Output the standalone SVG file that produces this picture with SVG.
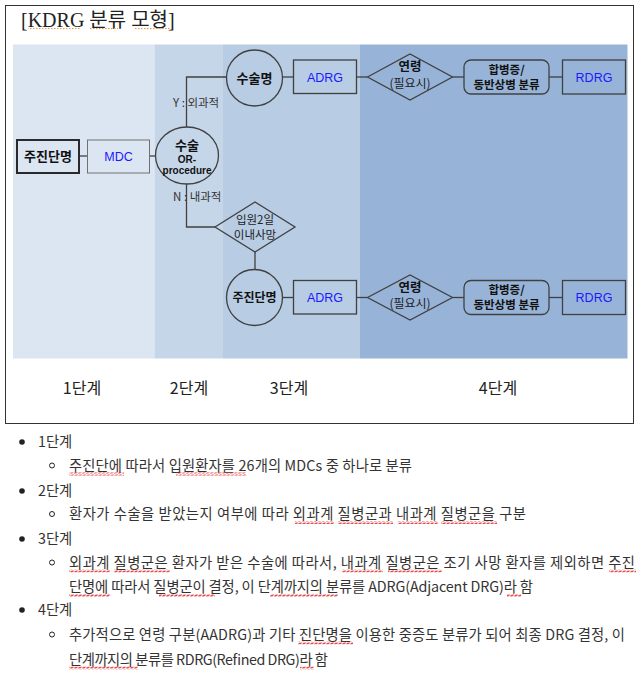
<svg xmlns="http://www.w3.org/2000/svg" width="644" height="679" viewBox="0 0 644 679">
<defs>
<style>
.kr{font-family:"Noto Sans CJK KR","Noto Sans",sans-serif;}
.lat{font-family:"Liberation Sans",Arial,"Noto Sans CJK KR",sans-serif;}
.node{fill:none;stroke:#404040;stroke-width:1.3;}
.dark{fill:none;stroke:#2a2a2a;stroke-width:2;}
.light{fill:none;stroke:#707070;stroke-width:1;}
.conn line,.conn polyline{fill:none;stroke:#404040;stroke-width:1.3;}
.b{font-weight:bold;fill:#111;}
.blue{fill:#1a1aff;font-size:12.5px;}
.lbl{fill:#333;font-size:11.5px;}
.stage{font-size:16px;fill:#222;}
.body{font-size:14.3px;fill:#333;}
.spell rect{fill:url(#wave);}
</style>
<pattern id="wave" patternUnits="userSpaceOnUse" width="4" height="3">
<path d="M0 2.5 L1 0.5 L3 2.5 L4 0.5" fill="none" stroke="#e02020" stroke-width="0.8"/>
</pattern>
<pattern id="dots" patternUnits="userSpaceOnUse" width="3" height="2">
<rect x="0" y="0" width="1.5" height="1.2" fill="#e0a050"/>
</pattern>
</defs>
<rect width="644" height="679" fill="#fff"/>

<!-- frame -->
<rect x="5.5" y="5.5" width="628" height="418" fill="none" stroke="#333" stroke-width="1"/>
<text x="21" y="27" font-family="'Liberation Serif','Noto Sans CJK KR',serif" font-size="20" fill="#222">[KDRG 분류 모형]</text>
<g id="title-marks" fill="url(#dots)">
<rect x="28" y="28" width="52" height="1.5"/>
<rect x="90" y="28" width="28" height="1.5"/>
<rect x="135" y="28" width="37" height="1.5"/>
</g>

<!-- stage bands -->
<g id="bands">
<rect x="13" y="44.5" width="141.5" height="314" fill="#dce6f2"/>
<rect x="154.5" y="44.5" width="68.5" height="314" fill="#c6d6e9"/>
<rect x="223" y="44.5" width="136.5" height="314" fill="#b8cce4"/>
<rect x="359.5" y="44.5" width="268" height="314" fill="#97b4d8"/>
</g>

<!-- connectors -->
<g id="connectors" class="conn">
<line x1="79.5" y1="156" x2="87.5" y2="156"/>
<line x1="149.5" y1="156" x2="155.5" y2="156"/>
<polyline points="186.5,127 186.5,77 226.5,77"/>
<line x1="282.5" y1="77" x2="293.5" y2="77"/>
<line x1="356.5" y1="77" x2="367.5" y2="77"/>
<line x1="452.5" y1="77" x2="464" y2="77"/>
<line x1="549" y1="77" x2="562.5" y2="77"/>
<polyline points="186.5,184 186.5,227 215,227"/>
<line x1="255" y1="252" x2="255" y2="269"/>
<line x1="282.5" y1="297.5" x2="293.5" y2="297.5"/>
<line x1="356.5" y1="297.5" x2="367.5" y2="297.5"/>
<line x1="452.5" y1="297.5" x2="464" y2="297.5"/>
<line x1="549" y1="297.5" x2="562.5" y2="297.5"/>
</g>
<text class="kr lbl" x="173" y="107">Y : 외과적</text>
<text class="kr lbl" x="173" y="201">N : 내과적</text>

<!-- nodes -->
<g id="n-main-dx">
<rect class="dark" x="17" y="140" width="62" height="33"/>
<text class="kr b" x="48" y="161" font-size="13" text-anchor="middle">주진단명</text>
</g>
<g id="n-mdc">
<rect class="light" x="87.5" y="140" width="62" height="33"/>
<text class="lat blue" x="118.5" y="161" text-anchor="middle">MDC</text>
</g>
<g id="n-surgery">
<ellipse class="node" cx="187" cy="155.5" rx="31.5" ry="28.5"/>
<text class="kr b" x="187" y="150" font-size="13" text-anchor="middle">수술</text>
<text class="lat b" x="187" y="163" font-size="10" text-anchor="middle">OR-</text>
<text class="lat b" x="187" y="174" font-size="10" text-anchor="middle">procedure</text>
</g>
<g id="n-opname">
<circle class="node" cx="254.5" cy="78" r="28"/>
<text class="kr b" x="254.5" y="82.5" font-size="13" text-anchor="middle">수술명</text>
</g>
<g id="n-adrg1">
<rect class="node" x="293.5" y="60" width="63" height="33.5"/>
<text class="lat blue" x="325" y="81.5" text-anchor="middle">ADRG</text>
</g>
<g id="n-age1">
<polygon class="node" points="367.5,77 410,54 452.5,77 410,100"/>
<text class="kr b" x="410" y="71" font-size="12.5" text-anchor="middle">연령</text>
<text class="kr" x="410" y="87.5" font-size="12" fill="#222" text-anchor="middle">(필요시)</text>
</g>
<g id="n-comorb1">
<rect class="node" x="464" y="60" width="85" height="34" rx="7"/>
<text class="kr b" x="506.5" y="73.5" font-size="11.5" text-anchor="middle">합병증/</text>
<text class="kr b" x="506.5" y="88.5" font-size="11.5" text-anchor="middle">동반상병 분류</text>
</g>
<g id="n-rdrg1">
<rect class="node" x="562.5" y="60" width="63" height="34"/>
<text class="lat blue" x="594" y="81.5" text-anchor="middle">RDRG</text>
</g>
<g id="n-death">
<polygon class="node" points="215,227 255,202 295,227 255,252"/>
<text class="kr" x="255" y="224" font-size="11.5" fill="#222" text-anchor="middle">입원2일</text>
<text class="kr" x="255" y="239" font-size="11.5" fill="#222" text-anchor="middle">이내사망</text>
</g>
<g id="n-dxname">
<circle class="node" cx="254.5" cy="297.5" r="28"/>
<text class="kr b" x="254.5" y="302" font-size="12" text-anchor="middle">주진단명</text>
</g>
<g id="n-adrg2">
<rect class="node" x="293.5" y="280.5" width="63" height="33.5"/>
<text class="lat blue" x="325" y="302" text-anchor="middle">ADRG</text>
</g>
<g id="n-age2">
<polygon class="node" points="367.5,297.5 410,275 452.5,297.5 410,320"/>
<text class="kr b" x="410" y="291.5" font-size="12.5" text-anchor="middle">연령</text>
<text class="kr" x="410" y="308" font-size="12" fill="#222" text-anchor="middle">(필요시)</text>
</g>
<g id="n-comorb2">
<rect class="node" x="464" y="280.5" width="85" height="34" rx="7"/>
<text class="kr b" x="506.5" y="294" font-size="11.5" text-anchor="middle">합병증/</text>
<text class="kr b" x="506.5" y="309" font-size="11.5" text-anchor="middle">동반상병 분류</text>
</g>
<g id="n-rdrg2">
<rect class="node" x="562.5" y="280.5" width="63" height="34"/>
<text class="lat blue" x="594" y="302" text-anchor="middle">RDRG</text>
</g>

<!-- stage labels -->
<g id="stages" class="kr stage" text-anchor="middle">
<text x="82" y="394">1단계</text>
<text x="189" y="394">2단계</text>
<text x="289" y="394">3단계</text>
<text x="498" y="394">4단계</text>
</g>

<!-- bullet list -->
<g id="list" class="kr body">
<circle cx="22" cy="442" r="2.8" fill="#222"/>
<text x="38" y="447">1단계</text>
<circle cx="52" cy="465.5" r="2.5" fill="none" stroke="#222" stroke-width="1"/>
<text x="69" y="470.5" textLength="343" lengthAdjust="spacing">주진단에 따라서 입원환자를 26개의 MDCs 중 하나로 분류</text>
<circle cx="22" cy="491" r="2.8" fill="#222"/>
<text x="38" y="496">2단계</text>
<circle cx="52" cy="514" r="2.5" fill="none" stroke="#222" stroke-width="1"/>
<text x="69" y="519" textLength="457" lengthAdjust="spacing">환자가 수술을 받았는지 여부에 따라 외과계 질병군과 내과계 질병군을 구분</text>
<circle cx="22" cy="539" r="2.8" fill="#222"/>
<text x="38" y="544">3단계</text>
<circle cx="52" cy="562.5" r="2.5" fill="none" stroke="#222" stroke-width="1"/>
<text x="69" y="567.5" textLength="566" lengthAdjust="spacing">외과계 질병군은 환자가 받은 수술에 따라서, 내과계 질병군은 조기 사망 환자를 제외하면 주진</text>
<text x="69" y="592" textLength="464" lengthAdjust="spacing">단명에 따라서 질병군이 결정, 이 단계까지의 분류를 ADRG(Adjacent DRG)라 함</text>
<circle cx="22" cy="610" r="2.8" fill="#222"/>
<text x="38" y="615">4단계</text>
<circle cx="52" cy="634.5" r="2.5" fill="none" stroke="#222" stroke-width="1"/>
<text x="69" y="639.5" textLength="556" lengthAdjust="spacing">추가적으로 연령 구분(AADRG)과 기타 진단명을 이용한 중증도 분류가 되어 최종 DRG 결정, 이</text>
<text x="69" y="664.5" textLength="259" lengthAdjust="spacing">단계까지의 분류를 RDRG(Refined DRG)라 함</text>
</g>

<!-- spell-check underlines -->
<g id="spell" class="spell">
<rect x="69" y="472.5" width="55" height="3"/>
<rect x="176" y="472.5" width="70" height="3"/>
<rect x="295" y="521" width="39" height="3"/>
<rect x="338" y="521" width="55" height="3"/>
<rect x="398" y="521" width="40" height="3"/>
<rect x="441" y="521" width="56" height="3"/>
<rect x="69" y="569.5" width="41" height="3"/>
<rect x="114" y="569.5" width="56" height="3"/>
<rect x="342" y="569.5" width="41" height="3"/>
<rect x="388" y="569.5" width="54" height="3"/>
<rect x="609" y="569.5" width="27" height="3"/>
<rect x="69" y="594" width="41" height="3"/>
<rect x="159" y="594" width="56" height="3"/>
<rect x="270" y="594" width="68" height="3"/>
<rect x="507" y="594" width="14" height="3"/>
<rect x="298" y="641.5" width="55" height="3"/>
<rect x="69" y="666.5" width="69" height="3"/>
<rect x="300" y="666.5" width="14" height="3"/>
</g>
</svg>
